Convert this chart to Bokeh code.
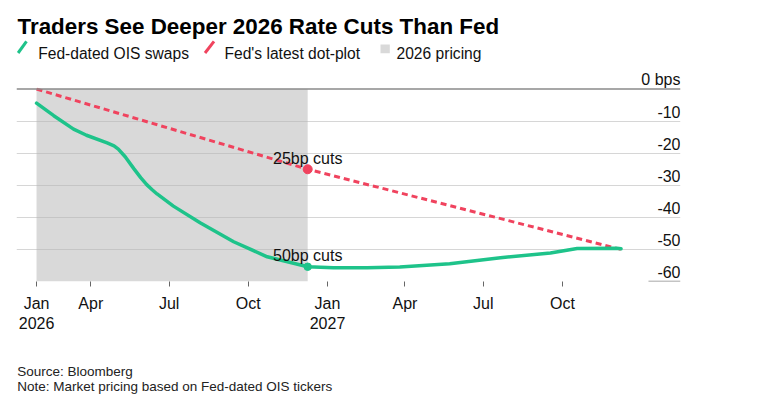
import pandas as pd
from bokeh.plotting import figure
from bokeh.models import Range1d, FixedTicker, Span
from bokeh.layouts import column
from bokeh.embed import file_html
from bokeh.resources import INLINE
from bokeh.core.properties import value

# ---------------- data ----------------
TITLE = "Traders See Deeper 2026 Rate Cuts Than Fed"
LEGEND_LABELS = ["Fed-dated OIS swaps", "Fed's latest dot-plot", "2026 pricing"]
SOURCE = "Source: Bloomberg"
NOTE = "Note: Market pricing based on Fed-dated OIS tickers"

ois_dates = ["2026-01-28", "2026-02-17", "2026-03-12", "2026-03-27", "2026-04-20",
             "2026-04-28", "2026-05-03", "2026-05-11", "2026-05-21", "2026-05-29",
             "2026-06-05", "2026-06-11", "2026-06-17", "2026-07-06", "2026-08-06",
             "2026-09-14", "2026-10-23", "2026-12-09", "2027-01-08", "2027-02-16",
             "2027-03-26", "2027-05-23", "2027-07-21", "2027-09-17", "2027-10-18",
             "2027-12-03", "2027-12-08"]
ois_bps = [-4.4, -8.3, -12.5, -14.4, -16.8,
           -17.7, -18.7, -21.1, -24.8, -27.6,
           -29.8, -31.3, -32.7, -36.5, -41.7,
           -47.6, -52.3, -55.4, -55.7, -55.7,
           -55.5, -54.5, -52.6, -51.1, -49.7,
           -49.6, -49.8]

dot_dates = ["2026-01-28", "2026-12-09", "2027-12-08"]
dot_bps = [0, -25, -50]

pricing_window = ["2026-01-28", "2026-12-09"]

annot_dates = ["2026-12-09", "2026-12-09"]
annot_bps = [-25, -55.4]
annot_text = ["25bp cuts", "50bp cuts"]

y_ticks = [0, -10, -20, -30, -40, -50, -60]
y_labels = ["0 bps", "-10", "-20", "-30", "-40", "-50", "-60"]

x_tick_dates = ["2026-01-28", "2026-04-01", "2026-07-01", "2026-10-01",
                "2027-01-01", "2027-04-01", "2027-07-01", "2027-10-01"]
x_tick_labels = ["Jan\n2026", "Apr", "Jul", "Oct", "Jan\n2027", "Apr", "Jul", "Oct"]

# ---------------- styles ----------------
FONT = "Liberation Sans"
GREEN = "#1ec38a"
RED = "#f0435e"
GRAY = "#d9d9d9"
W = 768
BL, BR = 16, 88   # frame borders shared by all stacked figures


def ts(s):
    return pd.Timestamp(s)


def pixel_fig(height):
    f = figure(width=W, height=height, x_range=Range1d(BL, W - BR), y_range=Range1d(height, 0),
               output_backend="svg", toolbar_location=None,
               x_axis_location=None, y_axis_location=None,
               min_border_left=BL, min_border_right=BR, min_border_top=0, min_border_bottom=0)
    f.grid.visible = False
    f.outline_line_color = None
    return f


# ---------------- header ----------------
HH = 62
hdr = pixel_fig(HH)
hdr.text(x=[17], y=[26], text=[TITLE], text_font=value(FONT), text_font_size="22.4px",
         text_font_style="bold", text_color="#000000", text_baseline="alphabetic")
hdr.segment(x0=[17.6, 204.5], y0=[52.5, 52.5], x1=[26.0, 213.5], y1=[40.9, 40.9],
            line_color=[GREEN, RED], line_width=3)
hdr.quad(left=[380], right=[389.3], top=[44], bottom=[52.7], fill_color=GRAY, line_color=None)
hdr.text(x=[37.7, 224.0, 396.0], y=[52.7, 52.7, 52.7], text=LEGEND_LABELS,
         text_font=value(FONT), text_font_size="15.6px", text_color="#111111",
         text_baseline="alphabetic")

# ---------------- main chart ----------------
origin = ts("2026-01-01")
x_start = origin + pd.Timedelta(days=3.72)
x_end = origin + pd.Timedelta(days=775.1)

p = figure(width=W, height=274, x_axis_type="datetime",
           x_range=Range1d(x_start, x_end), y_range=Range1d(-60, 8.29),
           output_backend="svg", toolbar_location=None, y_axis_location=None,
           min_border_left=BL, min_border_right=BR, min_border_top=0, min_border_bottom=55)
p.outline_line_color = None
p.xgrid.visible = False
p.ygrid.ticker = FixedTicker(ticks=[t for t in y_ticks if t not in (0, -60)])
p.ygrid.grid_line_color = "#b4b4b4"
p.ygrid.grid_line_alpha = 0.55
p.ygrid.grid_line_width = 1

p.quad(left=[ts(pricing_window[0])], right=[ts(pricing_window[1])], bottom=[min(y_ticks)],
       top=[max(y_ticks)], fill_color=GRAY, line_color=None, level="image")

p.add_layout(Span(location=0, dimension="width", line_color="#8a8a8a", line_width=1.5))
p.segment(x0=[x_end - pd.Timedelta(days=37.2)], y0=[min(y_ticks)], x1=[x_end], y1=[min(y_ticks)],
          line_color="#8a8a8a", line_width=1.5)

p.line([ts(d) for d in dot_dates], dot_bps, line_color=RED, line_width=3, line_dash="6 4")
p.line([ts(d) for d in ois_dates], ois_bps, line_color=GREEN, line_width=3.5,
       line_join="round", line_cap="round")

p.scatter(x=[ts(annot_dates[0])], y=[annot_bps[0]], size=9, color=RED)
p.scatter(x=[ts(annot_dates[1])], y=[annot_bps[1]], size=7.5, color=GREEN)

p.text(x=[ts(d) for d in annot_dates], y=annot_bps, text=annot_text,
       text_align="center", text_baseline="alphabetic", y_offset=-11,
       text_font=value(FONT), text_font_size="16px", text_color="#111111")

p.text(x=[x_end] * len(y_ticks), y=y_ticks, text=y_labels,
       text_align="right", text_baseline="alphabetic", y_offset=-9.6,
       text_font=value(FONT), text_font_size="16px", text_color="#111111")

tick_ms = [int(ts(d).value // 10**6) for d in x_tick_dates]
p.xaxis.ticker = FixedTicker(ticks=tick_ms)
p.xaxis.major_label_overrides = {t: lab for t, lab in zip(tick_ms, x_tick_labels)}
p.xaxis.axis_line_color = None
p.xaxis.major_tick_in = 0
p.xaxis.major_tick_out = 5
p.xaxis.major_tick_line_color = "#666666"
p.xaxis.minor_tick_line_color = None
p.xaxis.major_label_standoff = 8
p.xaxis.major_label_text_font = FONT
p.xaxis.major_label_text_font_size = "16px"
p.xaxis.major_label_text_color = "#111111"

# ---------------- footer ----------------
ftr = pixel_fig(65)
ftr.text(x=[16.7, 16.7], y=[34.7, 49.7], text=[SOURCE, NOTE], text_font=value(FONT),
         text_font_size="13.5px", text_color="#222222", text_baseline="alphabetic")

layout = column(hdr, p, ftr, spacing=0)
open("out.html", "w").write(file_html(layout, INLINE))
